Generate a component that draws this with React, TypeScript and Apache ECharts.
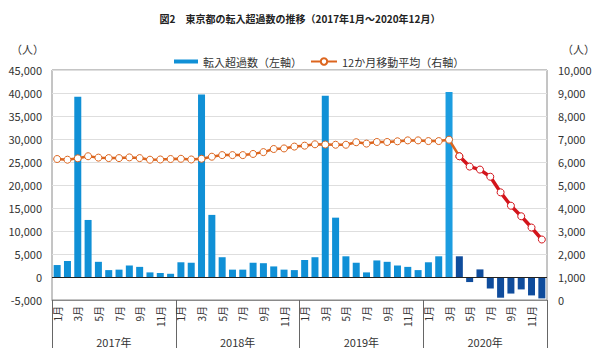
import React, { useEffect, useRef } from "react";
import * as echarts from "echarts";

const months: string[] = [];
for (let y = 0; y < 4; y++) for (let m = 1; m <= 12; m++) months.push(m + "月");
const years = ["2017年", "2018年", "2019年", "2020年"];

const netInflow = [
  2600, 3500, 39200, 12400, 3300, 1500, 1600, 2500, 2200, 1000, 870, 700,
  3200, 3100, 39700, 13500, 4300, 1600, 1600, 3100, 3000, 2300, 1600, 1500,
  3700, 4300, 39400, 12900, 4500, 3100, 1000, 3600, 3300, 2500, 2200, 1500,
  3200, 4500, 40200, 4500, -1100, 1650, -2500, -4500, -3600, -2700, -4000, -4650,
];

const movingAvg = [
  6130, 6100, 6160, 6250, 6190, 6170, 6170, 6200, 6170, 6100, 6110, 6130,
  6140, 6110, 6140, 6230, 6300, 6300, 6300, 6350, 6430, 6565, 6590, 6670,
  6710, 6770, 6760, 6750, 6750, 6860, 6800, 6870, 6870, 6900, 6940, 6940,
  6910, 6910, 6970, 6250, 5800, 5670, 5360, 4680, 4100, 3640, 3150, 2630,
];

const darkFrom = 39; // 2020年4月以降

const FONT = "'Noto Sans CJK JP', 'Noto Sans', sans-serif";

export default function App() {
  const ref = useRef<HTMLDivElement>(null);
  useEffect(() => {
    if (!ref.current) return;
    const chart = echarts.init(ref.current, undefined, { renderer: "svg" });
    const fmt = (v: number) => v.toLocaleString("en-US");
    const barData = netInflow.map((v, i) => ({
      value: v,
      itemStyle: { color: i >= darkFrom ? "#0f4c9c" : i === 38 ? "#1c9de0" : "#1090d6" },
    }));
    const orange = movingAvg.map((v, i) => (i <= darkFrom ? v : null));
    const red = movingAvg.map((v, i) => (i >= darkFrom ? v : null));
    chart.setOption({
      animation: false,
      textStyle: { fontFamily: FONT },
      title: {
        text: "図2　東京都の転入超過数の推移（2017年1月～2020年12月）",
        left: "center",
        top: 8,
        textStyle: { fontSize: 10, fontWeight: "bold", color: "#222", fontFamily: FONT },
      },
      legend: [
        {
          data: [{ name: "転入超過数（左軸）", icon: "rect" }],
          left: 169,
          top: 51,
          itemWidth: 24,
          itemHeight: 4,
          textStyle: { fontSize: 11, color: "#333", fontFamily: FONT },
        },
        {
          data: ["12か月移動平均（右軸）"],
          left: 305,
          top: 51,
          itemWidth: 26,
          itemHeight: 8,
          textStyle: { fontSize: 11, color: "#333", fontFamily: FONT },
        },
      ],
      graphic: [
        { type: "text", left: 11, top: 43, style: { text: "（人）", fontSize: 11, fill: "#333", fontFamily: FONT } },
        { type: "text", left: 562, top: 43, style: { text: "（人）", fontSize: 11, fill: "#333", fontFamily: FONT } },
      ],
      grid: [
        {
          left: 52,
          right: 53,
          top: 70,
          bottom: 64,
          show: true,
          borderColor: "#8a8a8a",
          borderWidth: 1,
        },
        {
          left: 52,
          right: 53,
          top: 300,
          bottom: 16,
          show: false,
        },
      ],
      xAxis: [
        {
          type: "category",
          gridIndex: 0,
          data: months,
          position: "bottom",
          axisLine: { onZero: false, show: true, lineStyle: { color: "#8a8a8a" } },
          axisTick: { show: false },
          axisLabel: {
            interval: 1,
            rotate: 90,
            margin: 6,
            fontSize: 10,
            color: "#333",
            fontFamily: FONT,
          },
        },
        {
          type: "category",
          gridIndex: 1,
          data: years,
          position: "bottom",
          axisLine: { show: false, onZero: false },
          axisTick: { show: true, inside: true, length: 48, lineStyle: { color: "#666" } },
          axisLabel: { inside: true, margin: 1, fontSize: 11, color: "#333", fontFamily: FONT },
        },
      ],
      yAxis: [
        {
          type: "value",
          gridIndex: 0,
          min: -5000,
          max: 45000,
          interval: 5000,
          axisLine: { show: false },
          axisTick: { show: false },
          splitLine: { show: true, lineStyle: { color: "#dedede" } },
          axisLabel: { margin: 10, fontSize: 11, color: "#333", formatter: fmt, fontFamily: FONT },
        },
        {
          type: "value",
          gridIndex: 0,
          min: 0,
          max: 10000,
          interval: 1000,
          axisLine: { show: false },
          axisTick: { show: false },
          splitLine: { show: false },
          axisLabel: { margin: 11, fontSize: 11, color: "#333", formatter: fmt, fontFamily: FONT },
        },
        {
          type: "value",
          gridIndex: 1,
          show: false,
          min: 0,
          max: 1,
        },
      ],
      series: [
        {
          name: "転入超過数（左軸）",
          type: "bar",
          data: barData,
          barWidth: 7,
          itemStyle: { color: "#1090d6" },
          markLine: {
            silent: true,
            symbol: "none",
            label: { show: false },
            lineStyle: { color: "#222", width: 1, type: "solid" },
            data: [{ yAxis: 0 }],
          },
        },
        {
          name: "12か月移動平均（右軸）",
          type: "line",
          yAxisIndex: 1,
          data: orange,
          symbol: "circle",
          symbolSize: 7,
          showAllSymbol: true,
          lineStyle: { color: "#dc651e", width: 2.5 },
          itemStyle: { color: "#ffffff", borderColor: "#dc651e", borderWidth: 1 },
        },
        {
          name: "red",
          type: "line",
          yAxisIndex: 1,
          data: red,
          symbol: "circle",
          symbolSize: 7,
          showAllSymbol: true,
          lineStyle: { color: "#d3141b", width: 3.5 },
          itemStyle: { color: "#ffffff", borderColor: "#d3141b", borderWidth: 1 },
        },
      ],
    });
    return () => chart.dispose();
  }, []);
  return <div ref={ref} style={{ width: 600, height: 364, margin: -8 }} />;
}
